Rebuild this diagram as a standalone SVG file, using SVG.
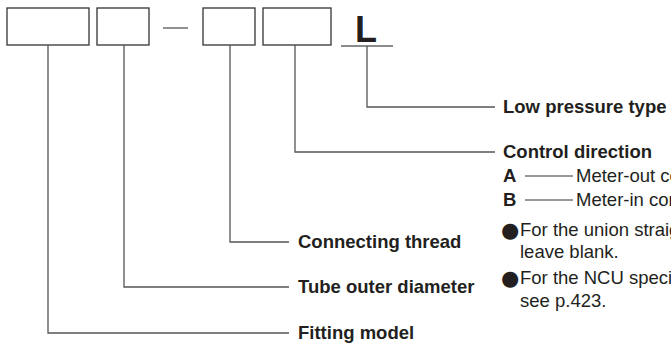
<svg xmlns="http://www.w3.org/2000/svg" width="671" height="347" viewBox="0 0 671 347">
<style>
.box{fill:#fff;stroke:#333;stroke-width:1.3}
.con{fill:none;stroke:#555;stroke-width:1.3}
.lbl{font-family:"Liberation Sans",Arial,sans-serif;font-size:18.5px;font-weight:bold;fill:#231f20}
.txt{font-family:"Liberation Sans",Arial,sans-serif;font-size:18.5px;fill:#231f20}
.big{font-family:"Liberation Sans",Arial,sans-serif;font-size:36px;font-weight:bold;fill:#231f20}
.dot{font-family:"DejaVu Sans",sans-serif;font-size:21px;fill:#231f20}
</style>
<rect width="671" height="347" fill="#fff"/>
<g id="box-model"><rect class="box" x="7" y="8" width="82" height="37"/></g>
<g id="box-tube"><rect class="box" x="97" y="8" width="52" height="37"/></g>
<g id="dash"><line x1="163" y1="28" x2="188" y2="28" stroke="#555" stroke-width="1.3"/></g>
<g id="box-thread"><rect class="box" x="203" y="8" width="52" height="37"/></g>
<g id="box-control"><rect class="box" x="263" y="8" width="68" height="37"/></g>
<g id="box-L">
<text class="big" x="366" y="42" text-anchor="middle">L</text>
<line x1="341" y1="46" x2="393" y2="46" stroke="#666" stroke-width="1.3"/>
</g>
<g id="connectors">
<path class="con" d="M48 45V333H289"/>
<path class="con" d="M124 45V287H289"/>
<path class="con" d="M230 45V242H289"/>
<path class="con" d="M295 45V152H495"/>
<path class="con" d="M367 46V107H495"/>
</g>
<g id="label-low"><text class="lbl" x="503" y="113">Low pressure type</text></g>
<g id="label-control">
<text class="lbl" x="503" y="158">Control direction</text>
<text class="lbl" x="503" y="182">A</text>
<line x1="525" y1="176" x2="573" y2="176" stroke="#333" stroke-width="1"/>
<text class="txt" x="576" y="182">Meter-out control</text>
<text class="lbl" x="503" y="206">B</text>
<line x1="525" y1="200" x2="573" y2="200" stroke="#333" stroke-width="1"/>
<text class="txt" x="576" y="206">Meter-in control</text>
<text class="dot" x="501" y="237">●</text>
<text class="txt" x="520" y="236">For the union straight type,</text>
<text class="txt" x="520" y="258">leave blank.</text>
<text class="dot" x="501" y="285">●</text>
<text class="txt" x="520" y="284">For the NCU specifications,</text>
<text class="txt" x="520" y="307">see p.423.</text>
</g>
<g id="label-thread"><text class="lbl" x="298" y="248">Connecting thread</text></g>
<g id="label-tube"><text class="lbl" x="298" y="293">Tube outer diameter</text></g>
<g id="label-model"><text class="lbl" x="298" y="339">Fitting model</text></g>
</svg>
